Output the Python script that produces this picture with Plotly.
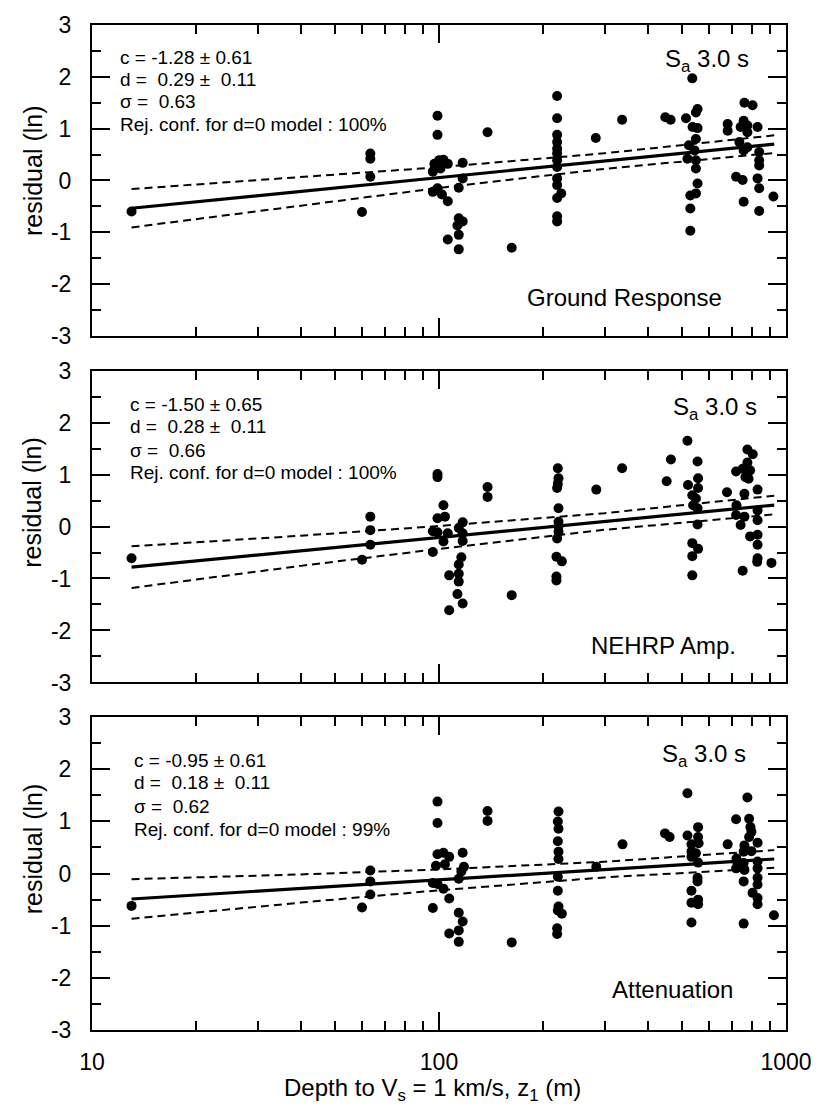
import numpy as np
import plotly.graph_objects as go

# ---------------- data ----------------
panel_names = ["Ground Response", "NEHRP Amp.", "Attenuation"]
period_label = "S<sub>a</sub> 3.0 s"
c_vals = [-1.28, -1.50, -0.95]
c_err = [0.61, 0.65, 0.61]
d_vals = [0.29, 0.28, 0.18]
d_err = [0.11, 0.11, 0.11]
sigma_vals = [0.63, 0.66, 0.62]
rej_conf = ["100%", "100%", "99%"]

# Ground Response residuals
z_gr = [13, 60, 63.4, 63.4, 63.4,
        99, 99, 100, 103, 106, 97, 96, 101, 96, 99, 102, 106,
        117, 117, 114, 114, 117, 113, 114, 106, 114,
        138, 162,
        219, 219, 219, 219, 219, 219, 219, 219, 219, 219, 219, 225, 219, 219,
        283, 337, 449, 465,
        537, 556, 550, 515, 538, 556, 550, 525, 545, 520, 550, 550, 556, 550, 530, 530, 530,
        759, 801, 755, 679, 679, 740, 774, 828, 774, 734, 774, 755, 837, 837, 837,
        718, 750, 828, 837, 755, 837, 920]
r_gr = [-0.60, -0.61, 0.52, 0.42, 0.07,
        1.25, 0.88, 0.39, 0.40, 0.32, 0.32, 0.17, 0.23, -0.22, -0.15, -0.27, -0.40,
        0.34, 0.04, -0.14, -0.73, -0.79, -0.87, -1.05, -1.14, -1.33,
        0.93, -1.30,
        1.63, 1.20, 0.88, 0.74, 0.61, 0.52, 0.39, 0.26, 0.04, -0.09, -0.34, -0.25, -0.69, -0.79,
        0.82, 1.17, 1.22, 1.17,
        1.97, 1.38, 1.31, 1.20, 1.03, 1.01, 0.80, 0.68, 0.58, 0.42, 0.39, 0.23, -0.06, -0.25, -0.29, -0.54, -0.97,
        1.50, 1.45, 1.15, 1.09, 0.96, 1.03, 1.06, 1.03, 0.93, 0.74, 0.64, 0.58, 0.55, 0.39, 0.29,
        0.07, 0.01, 0.04, -0.15, -0.41, -0.59, -0.31]

# NEHRP amplification residuals
z_ne = [13, 60, 63.4, 63.4, 63.4,
        99, 99, 103, 99, 104, 96, 99, 106, 103, 96,
        117, 114, 117, 117, 116, 114, 114, 114, 113, 117, 107, 107,
        138, 138, 162,
        220, 221, 220, 219, 221, 221, 221, 221, 219, 218, 226, 218, 218,
        284, 337, 466, 453,
        520, 556, 558, 558, 522, 537, 550, 540, 556, 556, 537, 558, 537, 537,
        676, 774, 802, 774, 718, 750, 788, 764, 780, 828, 759, 720, 718, 759, 740,
        828, 828, 788, 828, 828, 828, 826, 750, 908]
r_ne = [-0.61, -0.64, 0.19, -0.07, -0.35,
        1.01, 0.95, 0.41, 0.16, 0.19, -0.09, -0.11, -0.13, -0.29, -0.49,
        0.08, -0.03, -0.13, -0.28, -0.59, -0.73, -0.91, -1.06, -1.30, -1.48, -0.94, -1.61,
        0.76, 0.57, -1.32,
        1.12, 0.93, 0.82, 0.74, 0.35, 0.09, 0.00, -0.10, -0.23, -0.58, -0.67, -0.96, -1.04,
        0.71, 1.12, 1.29, 0.87,
        1.65, 1.25, 0.93, 0.74, 0.80, 0.60, 0.54, 0.41, 0.35, 0.04, -0.32, -0.43, -0.57, -0.94,
        0.66, 1.48, 1.39, 1.23, 1.06, 1.11, 1.08, 0.95, 0.92, 0.71, 0.63, 0.41, 0.22, 0.19, 0.03,
        0.31, 0.12, -0.19, -0.16, -0.35, -0.61, -0.68, -0.85, -0.70]

# Attenuation residuals
z_at = [13, 60, 63.4, 63.4, 63.4,
        99, 99, 99, 103, 107, 98, 104, 96, 99, 103, 107, 96,
        117, 118, 116, 114, 114, 117, 114, 107, 114,
        138, 138, 162,
        221, 220, 221, 220, 221, 221, 220, 220, 221, 220, 226, 219, 219,
        284, 338, 448, 462,
        520, 558, 520, 558, 534, 560, 534, 550, 534, 558, 556, 556, 534, 534, 558, 558, 534,
        774, 718, 783, 790, 795, 783, 679, 828, 759, 755, 795, 720, 725, 755, 718, 759,
        828, 828, 828, 828, 755, 801, 828, 828, 755, 923]
r_at = [-0.62, -0.65, 0.06, -0.15, -0.40,
        1.38, 0.97, 0.37, 0.40, 0.32, 0.15, 0.18, -0.18, -0.20, -0.29, -0.48, -0.66,
        0.40, 0.13, 0.04, -0.10, -0.75, -0.92, -1.09, -1.15, -1.31,
        1.20, 1.01, -1.32,
        1.19, 1.00, 0.86, 0.62, 0.42, 0.28, -0.06, -0.33, -0.63, -0.71, -0.77, -1.05, -1.16,
        0.13, 0.56, 0.77, 0.70,
        1.54, 0.89, 0.73, 0.70, 0.56, 0.58, 0.42, 0.39, 0.32, 0.21, -0.08, -0.15, -0.33, -0.56, -0.50, -0.59, -0.94,
        1.46, 1.04, 1.05, 0.89, 0.80, 0.70, 0.56, 0.59, 0.54, 0.42, 0.43, 0.29, 0.20, 0.20, 0.10, 0.07,
        0.23, 0.10, -0.08, -0.21, -0.15, -0.37, -0.47, -0.59, -0.96, -0.80]

# confidence band (half width) read at these depths
band_z = [13, 40, 100, 300, 925]
band_hw = [[0.37, 0.27, 0.20, 0.15, 0.17],
           [0.40, 0.29, 0.22, 0.16, 0.18],
           [0.38, 0.27, 0.20, 0.15, 0.17]]

x_tickvals = [10, 100, 1000]
x_minor = [20, 30, 40, 50, 60, 70, 80, 90, 200, 300, 400, 500, 600, 700, 800, 900]
y_tickvals = [-3, -2, -1, 0, 1, 2, 3]
y_minor = [-2.5, -1.5, -0.5, 0.5, 1.5, 2.5]

z_data = [z_gr, z_ne, z_at]
r_data = [r_gr, r_ne, r_at]

# ---------------- layout geometry ----------------
W, H = 824, 1107
PL, PR, PT, PB = 92, 792, 15, 1030
panel_px = [(15, 329), (364, 679), (714, 1030)]


def px_x(px):
    return (px - PL) / (PR - PL)


def px_y(py):
    return (PB - py) / (PB - PT)


FONT = "Liberation Sans, Arial, Helvetica, sans-serif"
NB = "\u00a0"

fig = go.Figure()
layout = dict(
    width=W, height=H,
    margin=dict(l=PL, r=W - PR, t=PT, b=H - PB, pad=0),
    paper_bgcolor="white", plot_bgcolor="white",
    showlegend=False,
    font=dict(family=FONT, color="black", size=22),
)

for i in range(3):
    sfx = "" if i == 0 else str(i + 1)
    xa, ya = "x" + sfx, "y" + sfx
    z = np.array(band_z, dtype=float)
    fitline = c_vals[i] + d_vals[i] * np.log(z)
    hw = np.array(band_hw[i])
    fig.add_trace(go.Scatter(x=z, y=fitline + hw, mode="lines", xaxis=xa, yaxis=ya,
                             line=dict(color="black", width=2, dash="8px,5px")))
    fig.add_trace(go.Scatter(x=z, y=fitline - hw, mode="lines", xaxis=xa, yaxis=ya,
                             line=dict(color="black", width=2, dash="8px,5px")))
    fig.add_trace(go.Scatter(x=z, y=fitline, mode="lines", xaxis=xa, yaxis=ya,
                             line=dict(color="black", width=3.2)))
    fig.add_trace(go.Scatter(x=z_data[i], y=r_data[i], mode="markers", xaxis=xa, yaxis=ya,
                             marker=dict(color="black", size=10, line=dict(width=0))))

    top, bot = panel_px[i]
    xkey = "xaxis" + sfx
    ykey = "yaxis" + sfx
    layout[xkey] = dict(
        type="log", range=[1, 3], anchor=ya,
        tickvals=x_tickvals, ticktext=[str(v) for v in x_tickvals],
        ticks="inside", ticklen=18, tickwidth=1.5, tickcolor="black",
        showline=True, linewidth=2, linecolor="black", mirror="ticks",
        showgrid=False, zeroline=False,
        showticklabels=(i == 2),
        tickfont=dict(size=23, family=FONT),
        ticklabelstandoff=10,
        minor=dict(tickvals=x_minor, ticks="inside", ticklen=9, tickwidth=1.5,
                   tickcolor="black", showgrid=False),
    )
    if i != 2:
        layout[xkey]["matches"] = "x3"
    layout[ykey] = dict(
        range=[-3, 3], anchor=xa,
        domain=[px_y(bot), px_y(top)],
        tickvals=y_tickvals, ticktext=[str(v) for v in y_tickvals],
        ticks="inside", ticklen=18, tickwidth=1.5, tickcolor="black",
        showline=True, linewidth=2, linecolor="black", mirror="ticks",
        showgrid=False, zeroline=False,
        tickfont=dict(size=23, family=FONT),
        ticklabelstandoff=14,
        minor=dict(tickvals=y_minor, ticks="inside", ticklen=9, tickwidth=1.5,
                   tickcolor="black", showgrid=False),
    )

annotations = []
stats_x = [118, 128, 132]
stats_y = [[48, 70, 92, 115], [398, 420, 445, 467], [758, 780, 804, 827]]
sa_pos = [(712, 51), (720, 402), (709, 753)]
name_pos = [(629, 290), (668, 642), (678, 989)]
ytitle_y = [162, 497, 847]

for i in range(3):
    lines = [
        f"c = {c_vals[i]:.2f} ± {c_err[i]:.2f}",
        f"d ={NB}{NB}{d_vals[i]:.2f} ±{NB}{NB}{d_err[i]:.2f}",
        f"σ ={NB}{NB}{sigma_vals[i]:.2f}",
        f"Rej. conf. for d=0 model : {rej_conf[i]}",
    ]
    for txt, yy in zip(lines, stats_y[i]):
        annotations.append(dict(text=txt, xref="paper", yref="paper",
                                x=px_x(stats_x[i]), y=px_y(yy), xanchor="left", yanchor="middle",
                                showarrow=False, font=dict(size=19, family=FONT)))
    annotations.append(dict(text=period_label, xref="paper", yref="paper",
                            x=px_x(sa_pos[i][0]), y=px_y(sa_pos[i][1]), xanchor="center", yanchor="middle",
                            showarrow=False, font=dict(size=24, family=FONT)))
    annotations.append(dict(text=panel_names[i], xref="paper", yref="paper",
                            x=px_x(name_pos[i][0]), y=px_y(name_pos[i][1]), xanchor="center", yanchor="middle",
                            showarrow=False, font=dict(size=24, family=FONT)))
    annotations.append(dict(text="residual (ln)", xref="paper", yref="paper", textangle=-90,
                            x=px_x(32), y=px_y(ytitle_y[i]), xanchor="center", yanchor="middle",
                            showarrow=False, font=dict(size=25, family=FONT)))

annotations.append(dict(text="Depth to V<sub>s</sub> = 1 km/s, z<sub>1</sub> (m)", xref="paper", yref="paper",
                        x=px_x(435), y=px_y(1090), xanchor="center", yanchor="middle",
                        showarrow=False, font=dict(size=24, family=FONT)))

layout["annotations"] = annotations
fig.update_layout(**layout)
fig.write_html("out.html")
